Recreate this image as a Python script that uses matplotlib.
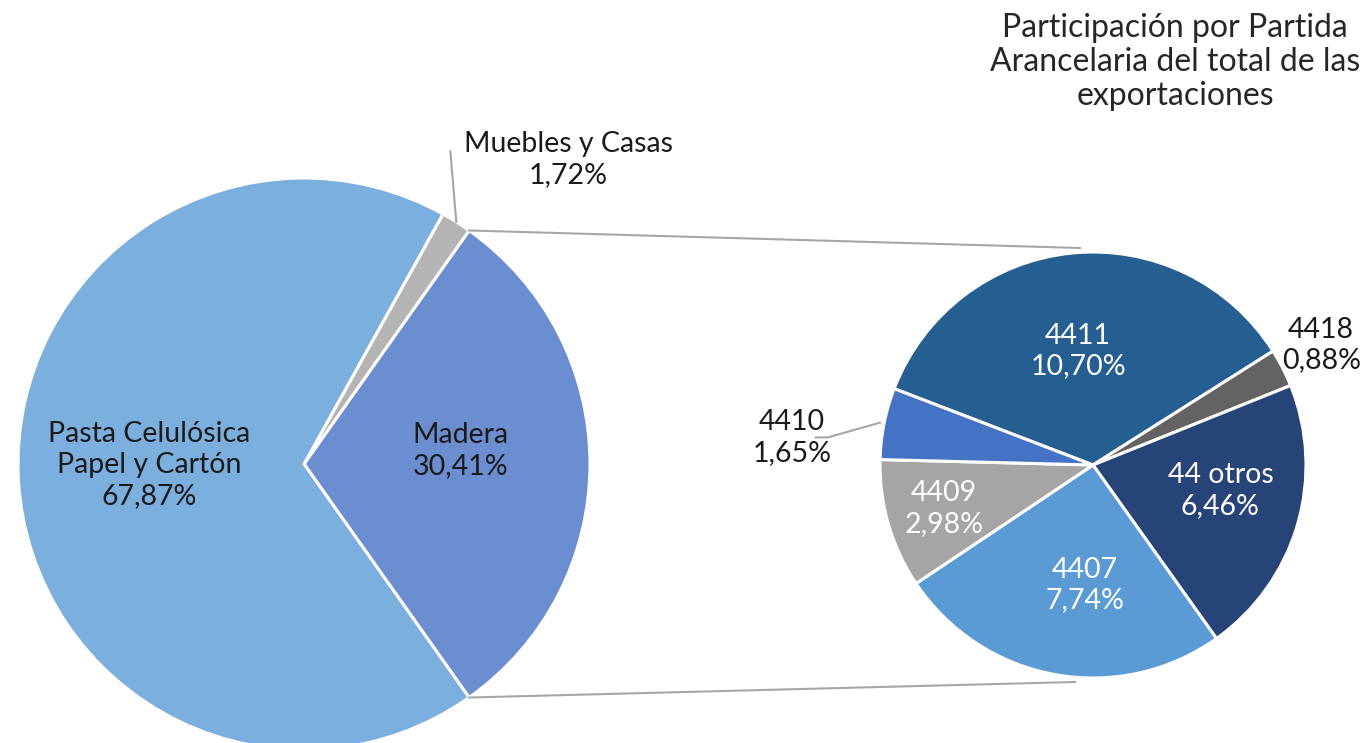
import matplotlib

# 화면 없이 파일로만 저장
matplotlib.use('Agg')

import numpy as np
import matplotlib.pyplot as plt

plt.rcParams['font.family'] = ['Lato', 'DejaVu Sans']

# 왼쪽 원: 전체 수출 구성
grupos = ['Madera', 'Muebles y Casas', 'Pasta Celulósica\nPapel y Cartón']
grupos_val = [30.41, 1.72, 67.87]
grupos_col = ['#6A8ECF', '#B4B4B4', '#7BAFDE']

# 오른쪽 원: Madera 세부 항목
partidas = ['4411', '4418', '44 otros', '4407', '4409', '4410']
partidas_val = [10.70, 0.88, 6.46, 7.74, 2.98, 1.65]
partidas_col = ['#255E91', '#636363', '#264478', '#5B9BD5', '#A5A5A5', '#4472C4']
partidas_txt = ['white', '#1a1a1a', 'white', 'white', 'white', '#1a1a1a']

titulo = 'Participación por Partida\nArancelaria del total de las\nexportaciones'

W, H = 1372, 743
fig = plt.figure(figsize=(W / 100, H / 100), dpi=100)
ax = fig.add_axes([0, 0, 1, 1])

c1, r1 = (304, H - 464), 286
c2, r2 = (1093, H - 465), 213
borde = dict(edgecolor='white', linewidth=2.2)

w1, _ = ax.pie(grupos_val, colors=grupos_col, center=c1, radius=r1,
               startangle=-grupos_val[0] / 100 * 180, counterclock=True,
               wedgeprops=borde)
w2, _ = ax.pie(partidas_val, colors=partidas_col, center=c2, radius=r2,
               startangle=159, counterclock=False, wedgeprops=borde)


def polar(c, r, ang, d):
    a = np.deg2rad(ang)
    return c[0] + r * d * np.cos(a), c[1] + r * d * np.sin(a)


def mid(w):
    return (w.theta1 + w.theta2) / 2


fmt = lambda v: f'{v:.2f}'.replace('.', ',') + '%'
fs = 20.5
ls = 1.22

# 왼쪽 라벨 (거리, 각도 보정)
pos1 = [(0.55, 5), (1.41, -8.8), (0.54, -2.7)]
for w, nombre, v, (d, da) in zip(w1, grupos, grupos_val, pos1):
    x, y = polar(c1, r1, mid(w) + da, d)
    ax.text(x, y, f'{nombre}\n{fmt(v)}', ha='center', va='center',
            fontsize=fs, color='#1a1a1a', linespacing=ls)

# Muebles y Casas 지시선
xm, ym = polar(c1, r1, mid(w1[1]) - 8.8, 1.41)
x0, y0 = polar(c1, r1, mid(w1[1]), 1.0)
ax.plot([x0, xm - 118], [y0, ym + 8], color='#A6A6A6', lw=1.5)

# 오른쪽 라벨
pos2 = [(0.54, 1.8), (1.21, 0.6), (0.61, 5), (0.565, 6.6), (0.73, 0), (1.42, 6)]
for w, nombre, v, col, (d, da) in zip(w2, partidas, partidas_val,
                                      partidas_txt, pos2):
    x, y = polar(c2, r2, mid(w) + da, d)
    ax.text(x, y, f'{nombre}\n{fmt(v)}', ha='center', va='center',
            fontsize=fs, color=col, linespacing=ls)

# 4410 지시선
xl, yl = polar(c2, r2, mid(w2[5]) + 6, 1.42)
x0, y0 = polar(c2, r2, mid(w2[5]), 1.02)
ax.plot([x0, xl + 36, xl + 24], [y0, yl, yl], color='#A6A6A6', lw=1.5)

# 두 원을 잇는 선
xa, ya = polar(c1, r1, w1[0].theta2, 1.0)
xb, yb = polar(c1, r1, w1[0].theta1, 1.0)
ax.plot([xa, c2[0] - 13], [ya, c2[1] + r2 + 4], color='#A6A6A6', lw=1.5)
ax.plot([xb, c2[0] - 18], [yb, c2[1] - r2 - 4], color='#A6A6A6', lw=1.5)

ax.text(1175, H - 62, titulo, ha='center', va='center', fontsize=23,
        color='#262626', linespacing=1.15)

ax.set_xlim(0, W)
ax.set_ylim(0, H)
ax.set_aspect('equal')
ax.axis('off')

plt.savefig('out.png', dpi=100)
